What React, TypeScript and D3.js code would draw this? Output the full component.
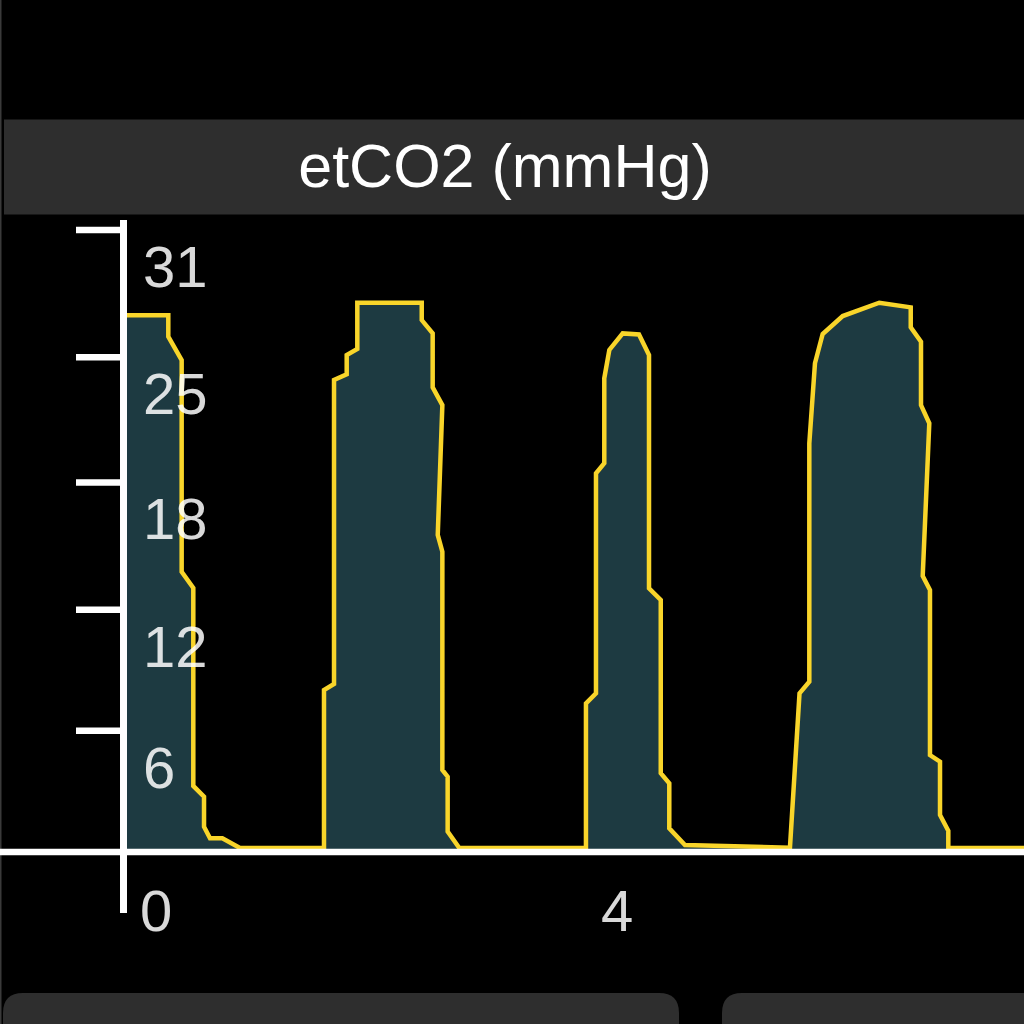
import React from "react";
import * as d3 from "d3";

const title = "etCO2 (mmHg)";

const times = [
  0, 0.393, 0.393, 0.509, 0.509, 0.61, 0.61, 0.703, 0.703, 0.755, 0.862, 1.015,
  1.744, 1.744, 1.831, 1.831, 1.941, 1.941, 2.033, 2.033, 2.592, 2.592, 2.687, 2.687,
  2.771, 2.731, 2.771, 2.771, 2.817, 2.817, 2.918,
  4.017, 4.017, 4.104, 4.104, 4.176, 4.176, 4.22, 4.336, 4.477, 4.564, 4.564, 4.666,
  4.666, 4.74, 4.74, 4.876, 5.787,
  5.87, 5.955, 5.955, 6.004, 6.071, 6.245, 6.562, 6.835, 6.835, 6.924, 6.924, 6.996,
  6.939, 7.002, 7.002, 7.089, 7.089, 7.161, 7.161, 7.9,
];

const values = [
  26.58, 26.58, 25.52, 24.36, 13.88, 13.07, 3.27, 2.74, 1.25, 0.68, 0.68, 0.2,
  0.2, 8.02, 8.32, 23.37, 23.65, 24.61, 24.91, 27.2, 27.2, 26.34, 25.68, 23.01,
  22.13, 15.7, 14.87, 4.06, 3.73, 1.01, 0.2,
  0.2, 7.36, 7.86, 18.75, 19.25, 23.46, 24.86, 25.68, 25.63, 24.61, 13.06, 12.48,
  3.9, 3.4, 1.17, 0.35, 0.21,
  7.86, 8.43, 20.24, 24.2, 25.65, 26.54, 27.2, 26.97, 25.98, 25.27, 22.13, 21.23,
  13.67, 12.97, 4.8, 4.47, 1.83, 1.05, 0.2, 0.2,
];

const yTickValues = [6.0, 12.0, 18.3, 24.5, 30.8];
const xTickValues = [0, 4];

const W = 1024;
const H = 1024;

export default function App() {
  const x = d3.scaleLinear().domain([0, 4]).range([123, 584]);
  const y = d3.scaleLinear().domain([0, 30.8]).range([852, 230]);

  const pts: [number, number][] = times.map((t, i) => [t, values[i]]);
  const area = d3
    .area<[number, number]>()
    .x((d) => x(d[0]))
    .y0(y(0))
    .y1((d) => y(d[1]))
    .curve(d3.curveLinear);
  const line = d3
    .line<[number, number]>()
    .x((d) => x(d[0]))
    .y((d) => y(d[1]))
    .curve(d3.curveLinear);

  const font = "'Liberation Sans', Arial, Helvetica, sans-serif";
  const axisX = x(0) + 0.5;

  return (
    <svg
      width={W}
      height={H}
      style={{ position: "absolute", left: 0, top: 0, display: "block" }}
      xmlns="http://www.w3.org/2000/svg"
    >
      <rect x={0} y={0} width={W} height={H} fill="#000" />
      <line x1={0.75} x2={0.75} y1={0} y2={H} stroke="#3a3a3a" strokeWidth={1.5} />
      {/* header bar */}
      <rect x={4} y={119.5} width={W} height={95} fill="#2e2e2e" />
      <text
        x={505}
        y={187}
        fill="#ffffff"
        fontFamily={font}
        fontSize={61}
        textAnchor="middle"
      >
        {title}
      </text>

      {/* waveform */}
      <path d={area(pts) || ""} fill="#1d3a41" />
      <path
        d={line(pts) || ""}
        fill="none"
        stroke="#f9d52a"
        strokeWidth={4.5}
        strokeLinejoin="miter"
      />

      {/* axes */}
      <line x1={0} x2={W} y1={y(0)} y2={y(0)} stroke="#fff" strokeWidth={6.5} />
      <line x1={axisX} x2={axisX} y1={220} y2={913} stroke="#fff" strokeWidth={7} />
      {yTickValues.map((v) => (
        <line
          key={"t" + v}
          x1={76}
          x2={axisX}
          y1={y(v)}
          y2={y(v)}
          stroke="#fff"
          strokeWidth={6.5}
        />
      ))}
      {yTickValues.map((v) => (
        <text
          key={"l" + v}
          x={143}
          y={y(v) + 57}
          fill="#fff"
          fillOpacity={0.85}
          fontFamily={font}
          fontSize={58}
        >
          {Math.round(v)}
        </text>
      ))}
      {xTickValues.map((t) => (
        <text
          key={"x" + t}
          x={x(t) + 17}
          y={931}
          fill="#fff"
          fillOpacity={0.85}
          fontFamily={font}
          fontSize={58}
        >
          {t}
        </text>
      ))}

      {/* bottom panels */}
      <path
        d={`M3,${H + 30} V1013 Q3,993 23,993 H659 Q679,993 679,1013 V${H + 30} Z`}
        fill="#2e2e2e"
      />
      <path
        d={`M722,${H + 30} V1013 Q722,993 742,993 H${W + 30} V${H + 30} Z`}
        fill="#2e2e2e"
      />
    </svg>
  );
}
